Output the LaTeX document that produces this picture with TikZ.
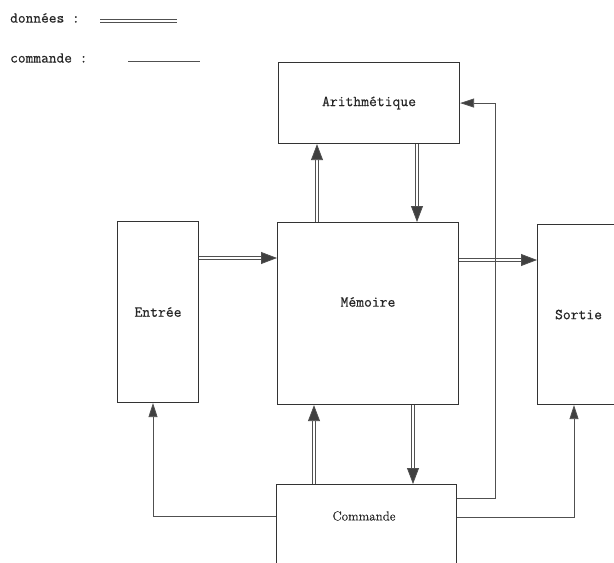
\documentclass[tikz,border=0pt]{standalone}
\usepackage{fontspec}
\newfontfamily\typew[FakeBold=0.6]{Latin Modern Mono}
\newfontfamily\romw[FakeBold=0.5]{Latin Modern Roman}
\usetikzlibrary{arrows.meta,calc}
\definecolor{boxline}{HTML}{333333}
\definecolor{wire}{HTML}{505050}
\definecolor{tipfill}{HTML}{404040}
\tikzset{
  blockbox/.style={draw=boxline, line width=1.1pt, fill=none, inner sep=0pt, anchor=north west,
    font=\fontsize{15.2}{18}\selectfont\typew, text=black!85},
  blocklabel/.style={inner sep=0pt, font=\fontsize{15.2}{18}\selectfont\typew, text=black!85},
  datawire/.style={draw=wire, double=white, line width=0.75pt, double distance=2.4pt,
    -{Triangle[length=16pt,width=12pt,fill=tipfill]}},
  ctlwire/.style={draw=wire, line width=0.8pt,
    -{Triangle[length=14pt,width=9pt,fill=tipfill]}},
  legendtext/.style={inner sep=0pt, anchor=west, font=\fontsize{15}{17}\selectfont\typew, text=black!85},
}
\begin{document}
\begin{tikzpicture}[x=1pt,y=-1pt]
\path[use as bounding box] (0,0) rectangle (614,563);
\clip (0,0) rectangle (614,563);
% legend
\node[legendtext] (ldon) at (10,18) {données :};
\node[legendtext] (lcom) at (10,58) {commande :};
\coordinate (d1) at (100,21.2);
\coordinate (d2) at (177,21.2);
\coordinate (c1) at (128,61);
\coordinate (c2) at (200,61);
\draw[draw=wire, double=white, line width=0.75pt, double distance=2.4pt] (d1) -- (d2);
\draw[draw=wire, line width=0.8pt] (c1) -- (c2);
% boxes
\node[blockbox, minimum width=181pt, minimum height=81pt] (ari) at (278,62) {Arithmétique};
\node[blockbox, minimum width=181pt, minimum height=182pt] (mem) at (277,222) {};
\node[blocklabel] (memlab) at (368,302) {Mémoire};
\node[blockbox, minimum width=81pt, minimum height=181pt] (ent) at (117,221) {Entrée};
\node[blockbox, minimum width=82pt, minimum height=180pt] (sor) at (537,224) {Sortie};
\node[blockbox, minimum width=180pt, minimum height=100pt] (com) at (276,484) {};
\node[inner sep=0pt, font=\fontsize{13}{15}\selectfont\romw, text=black!85] (comlab) at (364,516) {Commande};
% data connectors
\draw[datawire] ([yshift=-37pt]ent.north east) -- ([yshift=-36pt]mem.north west);
\draw[datawire] ([yshift=-38pt]mem.north east) -- ([yshift=-36pt]sor.north west);
\draw[datawire] ([xshift=40pt]mem.north west) -- ([xshift=39pt]ari.south west);
\draw[datawire] ([xshift=139pt]ari.south west) -- ([xshift=140pt]mem.north west);
\draw[datawire] ([xshift=38pt]com.north west) -- ([xshift=37pt]mem.south west);
\draw[datawire] ([xshift=136pt]mem.south west) -- ([xshift=137pt]com.north west);
% control connectors
\draw[ctlwire] ([yshift=-32pt]com.north west) -| ([xshift=36pt]ent.south west);
\draw[ctlwire] ([yshift=-33pt]com.north east) -| ([xshift=37pt]sor.south west);
\draw[ctlwire] ([yshift=-14pt]com.north east) -| ([xshift=35pt]ari.east) -- (ari.east);
\end{tikzpicture}
\end{document}
